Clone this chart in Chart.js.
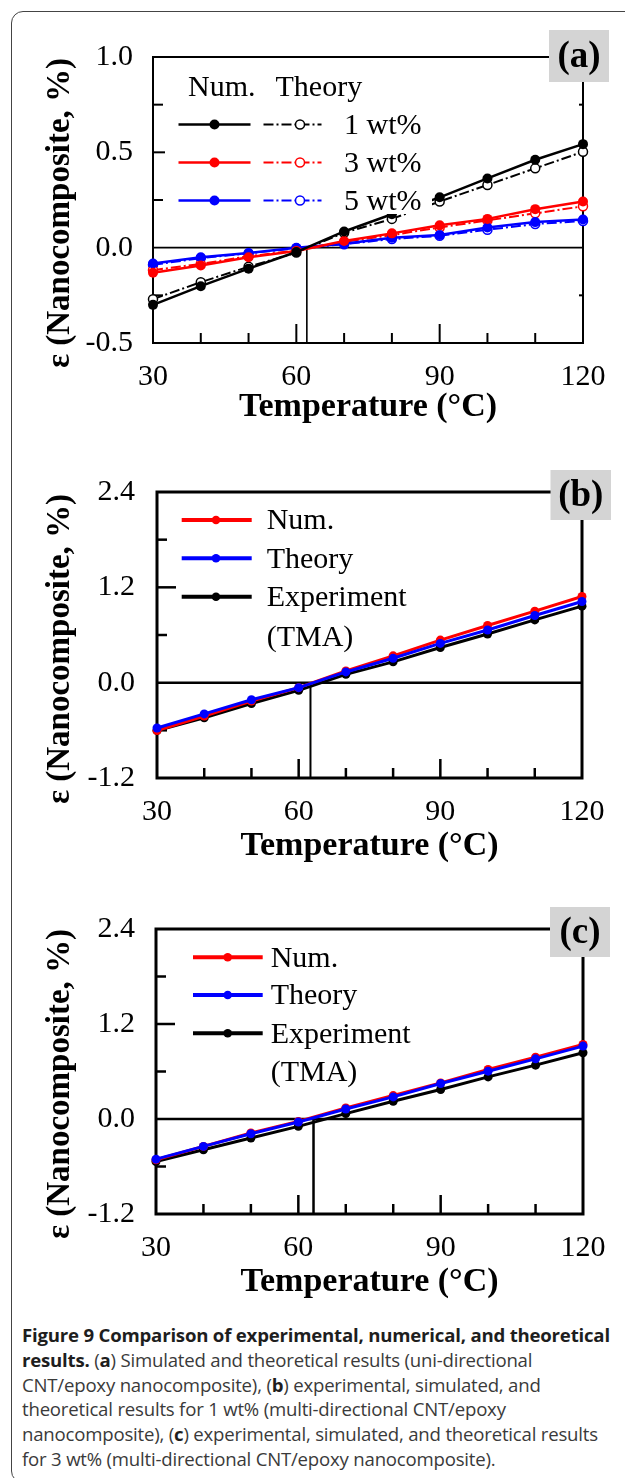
<!DOCTYPE html>
<html><head><meta charset="utf-8">
<script src="https://cdn.jsdelivr.net/npm/chart.js@4.4.1/dist/chart.umd.min.js"></script>
<style>
html,body{margin:0;padding:0;background:#fff;}
body{width:625px;height:1478px;position:relative;overflow:hidden;}
#frame{position:absolute;left:11px;top:11px;width:720px;height:1472px;border:1.5px solid #444;border-radius:12px;box-sizing:border-box;}
canvas{position:absolute;left:0;width:625px;height:440px;}
#caption{position:absolute;left:22px;top:1323px;font-family:'Open Sans',Lato,sans-serif;font-size:18.6px;letter-spacing:-0.2px;line-height:24.8px;color:#3a3a3a;white-space:nowrap;}
#caption b{color:#1e1e1e;}
</style></head><body>
<div id="frame"></div>
<canvas id="ca" width="625" height="440" style="top:0px"></canvas>
<canvas id="cb" width="625" height="440" style="top:440px"></canvas>
<canvas id="cc" width="625" height="440" style="top:880px"></canvas>
<div id="caption"><b>Figure 9 Comparison of experimental, numerical, and theoretical</b><br><b>results.</b> (<b>a</b>) Simulated and theoretical results (uni-directional<br>CNT/epoxy nanocomposite), (<b>b</b>) experimental, simulated, and<br>theoretical results for 1 wt% (multi-directional CNT/epoxy<br>nanocomposite), (<b>c</b>) experimental, simulated, and theoretical results<br>for 3 wt% (multi-directional CNT/epoxy nanocomposite).</div>
<script>
// ---------- data ----------
const temps = [30, 40, 50, 60, 70, 80, 90, 100, 110, 120];

// (a) uni-directional CNT/epoxy
const numA1 = [-0.300, -0.202, -0.110, -0.023, 0.085, 0.175, 0.264, 0.363, 0.461, 0.543];
const thA1  = [-0.270, -0.181, -0.100, -0.026, 0.078, 0.151, 0.242, 0.329, 0.416, 0.503];
const numA3 = [-0.132, -0.094, -0.050, -0.017, 0.035, 0.075, 0.117, 0.151, 0.202, 0.242];
const thA3  = [-0.118, -0.085, -0.045, -0.015, 0.030, 0.066, 0.106, 0.143, 0.180, 0.217];
const numA5 = [-0.083, -0.050, -0.028, 0.000, 0.021, 0.052, 0.066, 0.106, 0.134, 0.148];
const thA5  = [-0.090, -0.055, -0.030, -0.003, 0.018, 0.045, 0.062, 0.094, 0.124, 0.140];

// (b) 1 wt% multi-directional
const numB = [-0.603, -0.420, -0.232, -0.063, 0.148, 0.338, 0.536, 0.720, 0.900, 1.085];
const thB  = [-0.570, -0.393, -0.215, -0.063, 0.135, 0.308, 0.494, 0.663, 0.845, 1.022];
const expB = [-0.603, -0.443, -0.262, -0.097, 0.105, 0.262, 0.443, 0.612, 0.790, 0.963];

// (c) 3 wt% multi-directional
const numC = [-0.515, -0.346, -0.177, -0.030, 0.139, 0.296, 0.456, 0.625, 0.780, 0.942];
const thC  = [-0.507, -0.346, -0.186, -0.038, 0.127, 0.279, 0.448, 0.604, 0.760, 0.921];
const expC = [-0.537, -0.389, -0.241, -0.093, 0.068, 0.224, 0.372, 0.532, 0.680, 0.837];

// reference temperature (vertical marker line) per panel
const refTemps = [62.2, 62.5, 63.2];

// tick labels / tick marks
const xTickLabels = [30, 60, 90, 120];
const xTickMarks = [40, 50, 60, 70, 80, 90, 100, 110];
const xMajorMarks = [60, 90];
const yTickLabelsA = [-0.5, 0.0, 0.5, 1.0];
const yTickMarksA = [-0.25, 0.25, 0.5, 0.75];
const yMajorMarksA = [0.5];
const yTickLabelsBC = [-1.2, 0.0, 1.2, 2.4];
const yTickMarksBC = [-0.6, 0.6, 1.2, 1.8];
const yMajorMarksBC = [1.2];

const legendA = ['1 wt%', '3 wt%', '5 wt%'];
const legendBC = ['Num.', 'Theory', 'Experiment', '(TMA)'];

const xTitle = 'Temperature (°C)';
const yTitle = 'ε (Nanocomposite, %)';

// ---------- drawing ----------
const FONT = "'Liberation Serif', 'Times New Roman', serif";
const RED = '#ff0000', BLUE = '#0000ff', BLACK = '#000000';
const DASHDOT = [10, 3, 2, 3];

function line(ctx, x1, y1, x2, y2) { ctx.beginPath(); ctx.moveTo(x1, y1); ctx.lineTo(x2, y2); ctx.stroke(); }
function dot(ctx, x, y, r, fill, stroke, lw) {
  ctx.beginPath(); ctx.arc(x, y, r, 0, Math.PI * 2);
  ctx.fillStyle = fill; ctx.fill();
  if (stroke) { ctx.lineWidth = lw; ctx.strokeStyle = stroke; ctx.stroke(); }
}

function decoPlugin(P) {
  return {
    id: 'deco',
    beforeDatasetsDraw(chart) {
      const { ctx, chartArea: a, scales: { x, y } } = chart;
      ctx.save();
      ctx.strokeStyle = '#000';
      ctx.lineWidth = P.frameW;
      ctx.strokeRect(a.left, a.top, a.right - a.left, a.bottom - a.top);
      ctx.lineWidth = P.tickW;
      xTickMarks.forEach(t => {
        const px = x.getPixelForValue(t);
        const len = xMajorMarks.includes(t) ? 19 : 10;
        line(ctx, px, a.bottom, px, a.bottom - len);
      });
      P.yMarks.forEach(v => {
        const py = y.getPixelForValue(v);
        const len = P.yMajor.includes(v) ? 19 : 10;
        line(ctx, a.left, py, a.left + len, py);
        if (P.rightNubs && !P.yMajor.includes(v)) line(ctx, a.right, py, a.right - 4, py);
      });
      ctx.restore();
    },
    afterDatasetsDraw(chart) {
      const ctx = chart.ctx;
      ctx.save();
      ctx.textBaseline = 'middle';
      ctx.textAlign = 'left';
      ctx.font = '30px ' + FONT;
      if (P.kind === 'a') {
        ctx.fillStyle = '#fff';
        ctx.fillRect(165, 64, 267, 150);
        ctx.fillStyle = '#000';
        ctx.fillText('Num.', 188, 88);
        ctx.fillText('Theory', 275.5, 88);
        const cols = [BLACK, RED, BLUE];
        const rows = [124.5, 162.5, 200.5];
        legendA.forEach((lab, i) => {
          const yy = rows[i], c = cols[i];
          ctx.strokeStyle = c; ctx.lineWidth = 2.5; ctx.setLineDash([]);
          line(ctx, 178.5, yy, 250.5, yy);
          dot(ctx, 214.5, yy, 5, c);
          ctx.lineWidth = 2; ctx.setLineDash(DASHDOT);
          line(ctx, 263.5, yy, 321.5, yy);
          ctx.setLineDash([]);
          dot(ctx, 300, yy, 4.5, '#fff', c, 1.5);
          ctx.fillStyle = '#000';
          ctx.fillText(lab, 344, yy + 1.5);
        });
      } else {
        const cols = [RED, BLUE, BLACK];
        const L = P.leg;
        legendBC.forEach((lab, i) => {
          const yy = L.rows[i];
          if (i < 3) {
            ctx.strokeStyle = cols[i]; ctx.lineWidth = 4;
            line(ctx, L.x0, yy, L.x1, yy);
            dot(ctx, L.xm, yy, 4.3, cols[i]);
          }
          ctx.fillStyle = '#000';
          ctx.fillText(lab, L.tx, yy + 1.5);
        });
      }
      ctx.restore();
    },
    afterDraw(chart) {
      const ctx = chart.ctx;
      ctx.save();
      // y-axis title
      ctx.translate(60, P.yTitleY);
      ctx.rotate(-Math.PI / 2);
      ctx.font = 'bold 33px ' + FONT;
      ctx.fillStyle = '#000';
      ctx.textAlign = 'center';
      ctx.textBaseline = 'middle';
      ctx.fillText(yTitle, 0, 0);
      ctx.restore();
      // panel label box
      ctx.save();
      const b = P.box;
      ctx.fillStyle = '#d4d4d4';
      ctx.fillRect(b.x, b.y, b.w, b.h);
      ctx.fillStyle = '#000';
      ctx.font = 'bold 37px ' + FONT;
      ctx.textAlign = 'center';
      ctx.textBaseline = 'middle';
      ctx.fillText(P.label, b.x + b.w / 2, b.y + b.h / 2 + 1);
      ctx.restore();
    }
  };
}

function makePanel(id, P) {
  const ds = [
    { data: [{ x: 30, y: 0 }, { x: 120, y: 0 }], borderColor: '#000', borderWidth: P.zeroW, pointRadius: 0, order: 90 },
    { data: [{ x: P.ref, y: 0 }, { x: P.ref, y: P.yMin }], borderColor: '#000', borderWidth: P.refW, pointRadius: 0, order: 90 }
  ];
  P.series.forEach(s => ds.push({
    data: temps.map((t, i) => ({ x: t, y: s.values[i] })),
    borderColor: s.color, borderWidth: s.lw, borderDash: s.dash || [],
    pointRadius: s.r, pointHoverRadius: s.r, pointBorderWidth: s.open ? 1.5 : 0,
    pointBackgroundColor: s.open ? '#fff' : s.color, pointBorderColor: s.color,
    tension: 0, clip: false, order: s.order
  }));
  const fmt = v => (Math.abs(v) < 1e-9 ? 0 : v).toFixed(1);
  new Chart(document.getElementById(id), {
    type: 'line',
    data: { datasets: ds },
    options: {
      responsive: false, animation: false, devicePixelRatio: 1, events: [],
      layout: { padding: { left: 0, top: P.area.top, right: 625 - P.area.right, bottom: 0 } },
      plugins: { legend: { display: false }, tooltip: { enabled: false } },
      scales: {
        x: {
          type: 'linear', min: 30, max: 120,
          afterFit: s => { s.height = 440 - P.area.bottom; },
          afterBuildTicks: s => { s.ticks = xTickLabels.map(v => ({ value: v })); },
          grid: { display: false, drawTicks: false }, border: { display: false },
          ticks: { padding: 16, color: '#000', font: { family: FONT, size: 30 }, maxRotation: 0, autoSkip: false },
          title: { display: true, text: xTitle, color: '#000', font: { family: FONT, size: 34, weight: 'bold' }, padding: { top: 0, bottom: P.xtPad } }
        },
        y: {
          type: 'linear', min: P.yMin, max: P.yMax,
          afterFit: s => { s.width = P.area.left; },
          afterBuildTicks: s => { s.ticks = P.yLabels.map(v => ({ value: v })); },
          grid: { display: false, drawTicks: false }, border: { display: false },
          ticks: { padding: P.ylPad, color: '#000', font: { family: FONT, size: 30 }, callback: fmt, autoSkip: false }
        }
      }
    },
    plugins: [decoPlugin(P)]
  });
}

makePanel('ca', {
  kind: 'a', label: '(a)', area: { left: 153, top: 57, right: 583, bottom: 343 },
  yMin: -0.5, yMax: 1.0, yLabels: yTickLabelsA, yMarks: yTickMarksA, yMajor: yMajorMarksA, rightNubs: true,
  ref: refTemps[0], zeroW: 1.6, refW: 1.6, frameW: 2, tickW: 2, xtPad: 12, ylPad: 20, yTitleY: 213,
  box: { x: 549, y: 30, w: 60, h: 52 },
  series: [
    { values: thA5, color: BLUE, lw: 2, dash: DASHDOT, r: 4.5, open: true, order: 6 },
    { values: thA3, color: RED, lw: 2, dash: DASHDOT, r: 4.5, open: true, order: 5 },
    { values: thA1, color: BLACK, lw: 2, dash: DASHDOT, r: 4.5, open: true, order: 4 },
    { values: numA5, color: BLUE, lw: 2.5, r: 5, order: 3 },
    { values: numA3, color: RED, lw: 2.5, r: 5, order: 2 },
    { values: numA1, color: BLACK, lw: 2.5, r: 5, order: 1 }
  ]
});

makePanel('cb', {
  kind: 'b', label: '(b)', area: { left: 157, top: 52, right: 582, bottom: 338 },
  yMin: -1.2, yMax: 2.4, yLabels: yTickLabelsBC, yMarks: yTickMarksBC, yMajor: yMajorMarksBC, rightNubs: false,
  ref: refTemps[1], zeroW: 2.5, refW: 2, frameW: 3, tickW: 2.5, xtPad: 13, ylPad: 22, yTitleY: 209,
  box: { x: 550.5, y: 30, w: 60.5, h: 50 },
  leg: { x0: 181.7, x1: 251.7, xm: 216, tx: 266.7, rows: [80, 118.3, 156.7, 196.7] },
  series: [
    { values: expB, color: BLACK, lw: 3, r: 4.5, order: 3 },
    { values: numB, color: RED, lw: 3, r: 4.5, order: 2 },
    { values: thB, color: BLUE, lw: 3, r: 4.5, order: 1 }
  ]
});

makePanel('cc', {
  kind: 'c', label: '(c)', area: { left: 156, top: 49, right: 583, bottom: 334 },
  yMin: -1.2, yMax: 2.4, yLabels: yTickLabelsBC, yMarks: yTickMarksBC, yMajor: yMajorMarksBC, rightNubs: false,
  ref: refTemps[2], zeroW: 2.5, refW: 2.5, frameW: 3, tickW: 2.5, xtPad: 17, ylPad: 21, yTitleY: 204,
  box: { x: 550, y: 27, w: 60, h: 50 },
  leg: { x0: 193, x1: 262.7, xm: 227.7, tx: 270.7, rows: [77.3, 115, 153.3, 191.7] },
  series: [
    { values: expC, color: BLACK, lw: 3, r: 4.5, order: 3 },
    { values: numC, color: RED, lw: 3, r: 4.5, order: 2 },
    { values: thC, color: BLUE, lw: 3, r: 4.5, order: 1 }
  ]
});
</script>
</body></html>
